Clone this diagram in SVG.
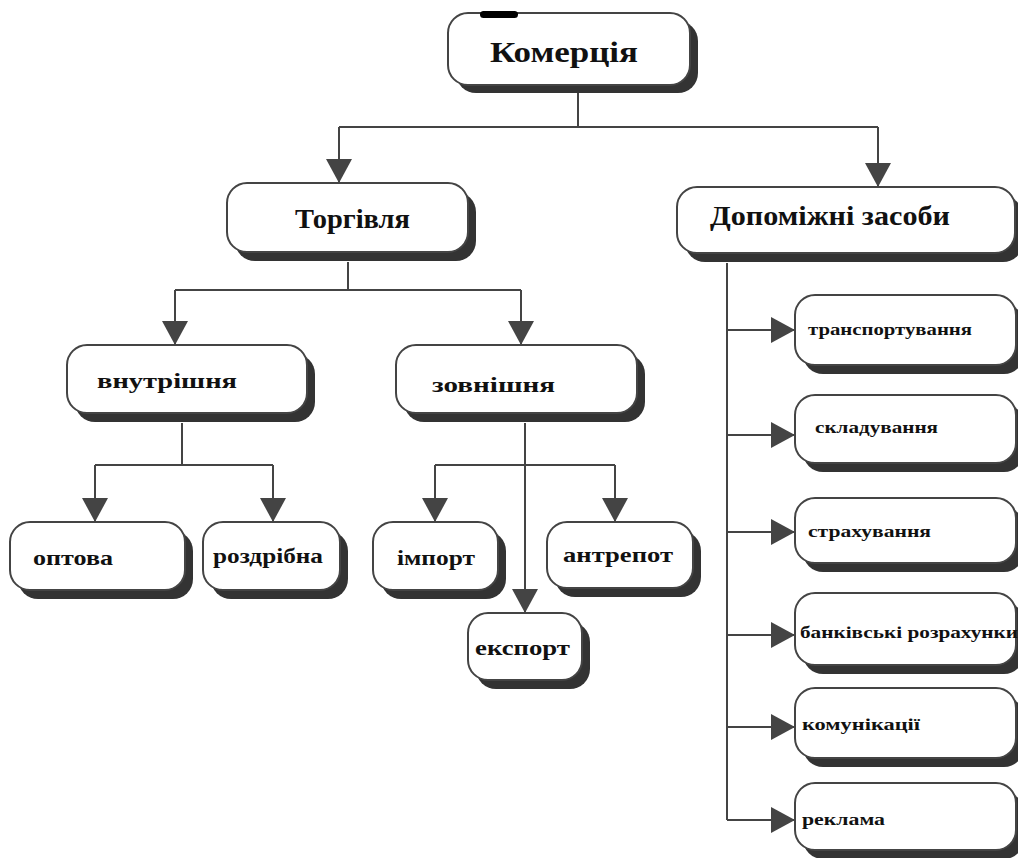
<svg xmlns="http://www.w3.org/2000/svg" width="1018" height="858" viewBox="0 0 1018 858">
<style>
.sh{fill:#333}
.bx{fill:#fff;stroke:#444;stroke-width:2}
.t{font-family:"Liberation Serif","Times New Roman",serif;font-weight:bold;fill:#111}
.l{font-size:27px}
.m{font-size:22px}
.s{font-size:16px}
.c{fill:none;stroke:#444;stroke-width:2}
</style>
<defs>
<marker id="ah" markerUnits="userSpaceOnUse" markerWidth="24" markerHeight="26" viewBox="0 0 24 26" refX="24" refY="13" orient="auto">
<path d="M0,0 L24,13 L0,26 z" fill="#444"/>
</marker>
</defs>
<rect width="1018" height="858" fill="#fff"/>
<g id="connectors">
<path class="c" d="M578,93 V127"/>
<path class="c" d="M339,127 H878"/>
<path class="c" d="M339,127 V183" marker-end="url(#ah)"/>
<path class="c" d="M878,127 V187" marker-end="url(#ah)"/>
<path class="c" d="M348,262 V290"/>
<path class="c" d="M175,290 H521"/>
<path class="c" d="M175,290 V345" marker-end="url(#ah)"/>
<path class="c" d="M521,290 V345" marker-end="url(#ah)"/>
<path class="c" d="M182,423 V465"/>
<path class="c" d="M95,465 H273"/>
<path class="c" d="M95,465 V522" marker-end="url(#ah)"/>
<path class="c" d="M273,465 V522" marker-end="url(#ah)"/>
<path class="c" d="M525,423 V613" marker-end="url(#ah)"/>
<path class="c" d="M435,465 H615"/>
<path class="c" d="M435,465 V522" marker-end="url(#ah)"/>
<path class="c" d="M615,465 V522" marker-end="url(#ah)"/>
<path class="c" d="M727,263 V820"/>
<path class="c" d="M727,330 H795" marker-end="url(#ah)"/>
<path class="c" d="M727,435 H795" marker-end="url(#ah)"/>
<path class="c" d="M727,532 H795" marker-end="url(#ah)"/>
<path class="c" d="M727,635 H795" marker-end="url(#ah)"/>
<path class="c" d="M727,727 H795" marker-end="url(#ah)"/>
<path class="c" d="M727,820 H795" marker-end="url(#ah)"/>
</g>
<g id="n-komertsiia">
<rect class="sh" x="456" y="21" width="242" height="72" rx="20"/>
<rect class="bx" x="448" y="13" width="242" height="72" rx="20"/>
<rect x="480" y="11" width="38" height="7" rx="3.5" fill="#000"/>
<text class="t" x="490" y="62" font-size="29" textLength="148" lengthAdjust="spacingAndGlyphs">Комерція</text>
</g>
<g id="n-torhivlia">
<rect class="sh" x="235" y="192" width="241" height="69" rx="20"/>
<rect class="bx" x="227" y="183" width="241" height="69" rx="20"/>
<text class="t l" x="295" y="228" textLength="115" lengthAdjust="spacingAndGlyphs">Торгівля</text>
</g>
<g id="n-dopomizhni">
<rect class="sh" x="685" y="196" width="338" height="66" rx="20"/>
<rect class="bx" x="677" y="187" width="338" height="66" rx="20"/>
<text class="t l" x="710" y="225" textLength="240" lengthAdjust="spacingAndGlyphs">Допоміжні засоби</text>
</g>
<g id="n-vnutrishnia">
<rect class="sh" x="75" y="354" width="240" height="68" rx="20"/>
<rect class="bx" x="67" y="345" width="240" height="68" rx="20"/>
<text class="t m" x="97" y="388" textLength="140" lengthAdjust="spacingAndGlyphs">внутрішня</text>
</g>
<g id="n-zovnishnia">
<rect class="sh" x="404" y="354" width="241" height="68" rx="20"/>
<rect class="bx" x="396" y="345" width="241" height="68" rx="20"/>
<text class="t m" x="432" y="392" textLength="123" lengthAdjust="spacingAndGlyphs">зовнішня</text>
</g>
<g id="n-optova">
<rect class="sh" x="18" y="531" width="175" height="68" rx="20"/>
<rect class="bx" x="10" y="522" width="175" height="68" rx="20"/>
<text class="t m" x="33" y="565" textLength="80" lengthAdjust="spacingAndGlyphs">оптова</text>
</g>
<g id="n-rozdribna">
<rect class="sh" x="211" y="531" width="137" height="68" rx="20"/>
<rect class="bx" x="203" y="522" width="137" height="68" rx="20"/>
<text class="t m" x="213" y="563" textLength="110" lengthAdjust="spacingAndGlyphs">роздрібна</text>
</g>
<g id="n-import">
<rect class="sh" x="381" y="531" width="125" height="68" rx="20"/>
<rect class="bx" x="373" y="522" width="125" height="68" rx="20"/>
<text class="t m" x="397" y="565" textLength="78" lengthAdjust="spacingAndGlyphs">імпорт</text>
</g>
<g id="n-antrepot">
<rect class="sh" x="555" y="531" width="146" height="66" rx="20"/>
<rect class="bx" x="547" y="522" width="146" height="66" rx="20"/>
<text class="t m" x="563" y="562" textLength="110" lengthAdjust="spacingAndGlyphs">антрепот</text>
</g>
<g id="n-eksport">
<rect class="sh" x="476" y="622" width="114" height="67" rx="20"/>
<rect class="bx" x="468" y="613" width="114" height="67" rx="20"/>
<text class="t m" x="475" y="655" textLength="95" lengthAdjust="spacingAndGlyphs">експорт</text>
</g>
<g id="n-transport">
<rect class="sh" x="803" y="304" width="221" height="70" rx="20"/>
<rect class="bx" x="795" y="295" width="221" height="70" rx="20"/>
<text class="t s" x="808" y="335" textLength="164" lengthAdjust="spacingAndGlyphs">транспортування</text>
</g>
<g id="n-skladuvannia">
<rect class="sh" x="803" y="404" width="221" height="68" rx="20"/>
<rect class="bx" x="795" y="395" width="221" height="68" rx="20"/>
<text class="t s" x="815" y="433" textLength="123" lengthAdjust="spacingAndGlyphs">складування</text>
</g>
<g id="n-strakhuvannia">
<rect class="sh" x="803" y="507" width="221" height="65" rx="20"/>
<rect class="bx" x="795" y="498" width="221" height="65" rx="20"/>
<text class="t s" x="808" y="537" textLength="123" lengthAdjust="spacingAndGlyphs">страхування</text>
</g>
<g id="n-bankivski">
<rect class="sh" x="803" y="602" width="221" height="72" rx="20"/>
<rect class="bx" x="795" y="593" width="221" height="72" rx="20"/>
<text class="t s" x="800" y="638" textLength="218" lengthAdjust="spacingAndGlyphs">банківські розрахунки</text>
</g>
<g id="n-komunikatsii">
<rect class="sh" x="803" y="697" width="221" height="70" rx="20"/>
<rect class="bx" x="795" y="688" width="221" height="70" rx="20"/>
<text class="t s" x="802" y="730" textLength="118" lengthAdjust="spacingAndGlyphs">комунікації</text>
</g>
<g id="n-reklama">
<rect class="sh" x="803" y="792" width="221" height="67" rx="20"/>
<rect class="bx" x="795" y="783" width="221" height="67" rx="20"/>
<text class="t s" x="802" y="825" textLength="83" lengthAdjust="spacingAndGlyphs">реклама</text>
</g>
</svg>
